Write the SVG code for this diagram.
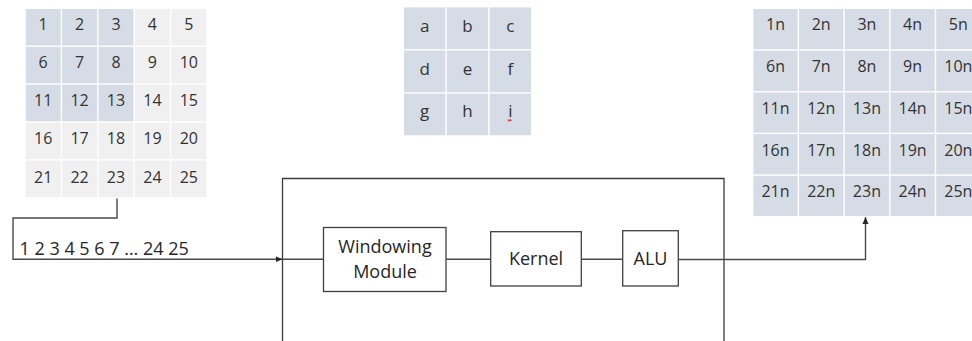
<svg xmlns="http://www.w3.org/2000/svg" width="972" height="341" viewBox="0 0 972 341">
  <style>
    .cell-hi { fill: #d6dce5; }
    .cell-lo { fill: #f0f0f0; }
    .num { font-family: "Open Sans", "Liberation Sans", sans-serif; font-size: 16px; fill: #333333; text-anchor: middle; }
    .let { font-family: "Open Sans", "Liberation Sans", sans-serif; font-size: 17px; fill: #333333; text-anchor: middle; }
    .blk { fill: #ffffff; stroke: #404040; stroke-width: 1.3; }
    .blk-text { font-family: "Open Sans", "Liberation Sans", sans-serif; font-size: 18px; fill: #262626; text-anchor: middle; }
    .wire { fill: none; stroke: #4a4a4a; stroke-width: 1.4; }
    .frame { fill: none; stroke: #3a3a3a; stroke-width: 1.3; }
    .stream { font-family: "Open Sans", "Liberation Sans", sans-serif; font-size: 18px; fill: #262626; }
  </style>
  <defs>
    <marker id="arrow" markerWidth="8" markerHeight="8" refX="7" refY="4" orient="auto" markerUnits="userSpaceOnUse">
      <path d="M0,1 L7,4 L0,7 Z" fill="#262626"/>
    </marker>
  </defs>
  <rect width="972" height="341" fill="#ffffff"/>

  <!-- 5x5 input matrix, 3x3 window shaded -->
  <g id="input-matrix">
    <rect class="cell-hi" x="25.7" y="9" width="35" height="36.5"/>
    <rect class="cell-hi" x="62.1" y="9" width="35" height="36.5"/>
    <rect class="cell-hi" x="98.5" y="9" width="35" height="36.5"/>
    <rect class="cell-lo" x="134.9" y="9" width="35" height="36.5"/>
    <rect class="cell-lo" x="171.3" y="9" width="35" height="36.5"/>
    <rect class="cell-hi" x="25.7" y="46.9" width="35" height="36.5"/>
    <rect class="cell-hi" x="62.1" y="46.9" width="35" height="36.5"/>
    <rect class="cell-hi" x="98.5" y="46.9" width="35" height="36.5"/>
    <rect class="cell-lo" x="134.9" y="46.9" width="35" height="36.5"/>
    <rect class="cell-lo" x="171.3" y="46.9" width="35" height="36.5"/>
    <rect class="cell-hi" x="25.7" y="84.8" width="35" height="36.5"/>
    <rect class="cell-hi" x="62.1" y="84.8" width="35" height="36.5"/>
    <rect class="cell-hi" x="98.5" y="84.8" width="35" height="36.5"/>
    <rect class="cell-lo" x="134.9" y="84.8" width="35" height="36.5"/>
    <rect class="cell-lo" x="171.3" y="84.8" width="35" height="36.5"/>
    <rect class="cell-lo" x="25.7" y="122.7" width="35" height="36.5"/>
    <rect class="cell-lo" x="62.1" y="122.7" width="35" height="36.5"/>
    <rect class="cell-lo" x="98.5" y="122.7" width="35" height="36.5"/>
    <rect class="cell-lo" x="134.9" y="122.7" width="35" height="36.5"/>
    <rect class="cell-lo" x="171.3" y="122.7" width="35" height="36.5"/>
    <rect class="cell-lo" x="25.7" y="160.6" width="35" height="36.5"/>
    <rect class="cell-lo" x="62.1" y="160.6" width="35" height="36.5"/>
    <rect class="cell-lo" x="98.5" y="160.6" width="35" height="36.5"/>
    <rect class="cell-lo" x="134.9" y="160.6" width="35" height="36.5"/>
    <rect class="cell-lo" x="171.3" y="160.6" width="35" height="36.5"/>
    <text class="num" x="43.2" y="30">1</text>
    <text class="num" x="79.6" y="30">2</text>
    <text class="num" x="116" y="30">3</text>
    <text class="num" x="152.4" y="30">4</text>
    <text class="num" x="188.8" y="30">5</text>
    <text class="num" x="43.2" y="68">6</text>
    <text class="num" x="79.6" y="68">7</text>
    <text class="num" x="116" y="68">8</text>
    <text class="num" x="152.4" y="68">9</text>
    <text class="num" x="188.8" y="68">10</text>
    <text class="num" x="43.2" y="106">11</text>
    <text class="num" x="79.6" y="106">12</text>
    <text class="num" x="116" y="106">13</text>
    <text class="num" x="152.4" y="106">14</text>
    <text class="num" x="188.8" y="106">15</text>
    <text class="num" x="43.2" y="144.3">16</text>
    <text class="num" x="79.6" y="144.3">17</text>
    <text class="num" x="116" y="144.3">18</text>
    <text class="num" x="152.4" y="144.3">19</text>
    <text class="num" x="188.8" y="144.3">20</text>
    <text class="num" x="43.2" y="183.3">21</text>
    <text class="num" x="79.6" y="183.3">22</text>
    <text class="num" x="116" y="183.3">23</text>
    <text class="num" x="152.4" y="183.3">24</text>
    <text class="num" x="188.8" y="183.3">25</text>
  </g>

  <!-- 3x3 kernel coefficients -->
  <g id="kernel-matrix">
    <rect class="cell-hi" x="404" y="7.4" width="41.4" height="41.7"/>
    <rect class="cell-hi" x="446.8" y="7.4" width="41.4" height="41.7"/>
    <rect class="cell-hi" x="489.6" y="7.4" width="41.4" height="41.7"/>
    <rect class="cell-hi" x="404" y="50.5" width="41.4" height="41.7"/>
    <rect class="cell-hi" x="446.8" y="50.5" width="41.4" height="41.7"/>
    <rect class="cell-hi" x="489.6" y="50.5" width="41.4" height="41.7"/>
    <rect class="cell-hi" x="404" y="93.6" width="41.4" height="41.7"/>
    <rect class="cell-hi" x="446.8" y="93.6" width="41.4" height="41.7"/>
    <rect class="cell-hi" x="489.6" y="93.6" width="41.4" height="41.7"/>
    <text class="let" x="424.7" y="32">a</text>
    <text class="let" x="467.5" y="32">b</text>
    <text class="let" x="510.3" y="32">c</text>
    <text class="let" x="424.7" y="75">d</text>
    <text class="let" x="467.5" y="75">e</text>
    <text class="let" x="510.3" y="75">f</text>
    <text class="let" x="424.7" y="117">g</text>
    <text class="let" x="467.5" y="117">h</text>
    <text class="let" x="510.3" y="117">i</text>
    <path d="M507.8,119.5 l1.2,1.6 l1.2,-1.6 l1.2,1.6" fill="none" stroke="#e03c3c" stroke-width="1.1"/>
  </g>

  <!-- 5x5 output matrix -->
  <g id="output-matrix">
    <rect class="cell-hi" x="753.4" y="9" width="44.3" height="40.3"/>
    <rect class="cell-hi" x="799.1" y="9" width="44.3" height="40.3"/>
    <rect class="cell-hi" x="844.8" y="9" width="44.3" height="40.3"/>
    <rect class="cell-hi" x="890.5" y="9" width="44.3" height="40.3"/>
    <rect class="cell-hi" x="936.2" y="9" width="44.3" height="40.3"/>
    <rect class="cell-hi" x="753.4" y="50.7" width="44.3" height="40.3"/>
    <rect class="cell-hi" x="799.1" y="50.7" width="44.3" height="40.3"/>
    <rect class="cell-hi" x="844.8" y="50.7" width="44.3" height="40.3"/>
    <rect class="cell-hi" x="890.5" y="50.7" width="44.3" height="40.3"/>
    <rect class="cell-hi" x="936.2" y="50.7" width="44.3" height="40.3"/>
    <rect class="cell-hi" x="753.4" y="92.4" width="44.3" height="40.3"/>
    <rect class="cell-hi" x="799.1" y="92.4" width="44.3" height="40.3"/>
    <rect class="cell-hi" x="844.8" y="92.4" width="44.3" height="40.3"/>
    <rect class="cell-hi" x="890.5" y="92.4" width="44.3" height="40.3"/>
    <rect class="cell-hi" x="936.2" y="92.4" width="44.3" height="40.3"/>
    <rect class="cell-hi" x="753.4" y="134.1" width="44.3" height="40.3"/>
    <rect class="cell-hi" x="799.1" y="134.1" width="44.3" height="40.3"/>
    <rect class="cell-hi" x="844.8" y="134.1" width="44.3" height="40.3"/>
    <rect class="cell-hi" x="890.5" y="134.1" width="44.3" height="40.3"/>
    <rect class="cell-hi" x="936.2" y="134.1" width="44.3" height="40.3"/>
    <rect class="cell-hi" x="753.4" y="175.8" width="44.3" height="40.3"/>
    <rect class="cell-hi" x="799.1" y="175.8" width="44.3" height="40.3"/>
    <rect class="cell-hi" x="844.8" y="175.8" width="44.3" height="40.3"/>
    <rect class="cell-hi" x="890.5" y="175.8" width="44.3" height="40.3"/>
    <rect class="cell-hi" x="936.2" y="175.8" width="44.3" height="40.3"/>
    <text class="num" x="775.5" y="30">1n</text>
    <text class="num" x="821.2" y="30">2n</text>
    <text class="num" x="866.9" y="30">3n</text>
    <text class="num" x="912.6" y="30">4n</text>
    <text class="num" x="958.3" y="30">5n</text>
    <text class="num" x="775.5" y="71.5">6n</text>
    <text class="num" x="821.2" y="71.5">7n</text>
    <text class="num" x="866.9" y="71.5">8n</text>
    <text class="num" x="912.6" y="71.5">9n</text>
    <text class="num" x="958.3" y="71.5">10n</text>
    <text class="num" x="775.5" y="114">11n</text>
    <text class="num" x="821.2" y="114">12n</text>
    <text class="num" x="866.9" y="114">13n</text>
    <text class="num" x="912.6" y="114">14n</text>
    <text class="num" x="958.3" y="114">15n</text>
    <text class="num" x="775.5" y="156">16n</text>
    <text class="num" x="821.2" y="156">17n</text>
    <text class="num" x="866.9" y="156">18n</text>
    <text class="num" x="912.6" y="156">19n</text>
    <text class="num" x="958.3" y="156">20n</text>
    <text class="num" x="775.5" y="197.3">21n</text>
    <text class="num" x="821.2" y="197.3">22n</text>
    <text class="num" x="866.9" y="197.3">23n</text>
    <text class="num" x="912.6" y="197.3">24n</text>
    <text class="num" x="958.3" y="197.3">25n</text>
  </g>

  <!-- serialized pixel stream label -->
  <g id="stream-label">
    <text class="stream" x="19.5" y="255">1 2 3 4 5 6 7 … 24 25</text>
  </g>

  <!-- open-bottom processing enclosure -->
  <g id="processor">
    <path class="frame" d="M282.5,341 V178.5 H724 V341"/>
  </g>

  <g id="windowing-module">
    <rect class="blk" x="323.5" y="227.5" width="122.5" height="64"/>
    <text class="blk-text" x="385" y="253">Windowing</text>
    <text class="blk-text" x="385" y="278">Module</text>
  </g>

  <g id="kernel">
    <rect class="blk" x="490.7" y="231.7" width="90.6" height="54.3"/>
    <text class="blk-text" x="536" y="265">Kernel</text>
  </g>

  <g id="alu">
    <rect class="blk" x="622.7" y="230.7" width="55.6" height="55.3"/>
    <text class="blk-text" x="650.5" y="265">ALU</text>
  </g>

  <!-- connectors -->
  <g id="connectors">
    <path class="wire" d="M117,198.5 V218 H13 V259.3 H282.5" marker-end="url(#arrow)"/>
    <path class="wire" d="M282.5,259.3 H323.5"/>
    <path class="wire" d="M446,259.3 H490.7"/>
    <path class="wire" d="M581.3,259.3 H622.7"/>
    <path class="wire" d="M678.3,259.5 H865.5 V217" marker-end="url(#arrow)"/>
  </g>
</svg>
